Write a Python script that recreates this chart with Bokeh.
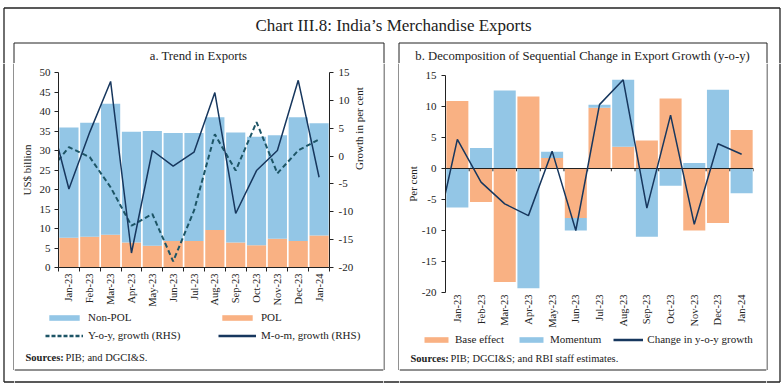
import math
from bokeh.plotting import figure
from bokeh.layouts import column, row
from bokeh.models import (Range1d, LinearAxis, FixedTicker, Label, Legend,
                          LegendItem, ColumnDataSource)
from bokeh.embed import file_html
from bokeh.resources import INLINE

# ---------------- data ----------------
months = ["Jan-23", "Feb-23", "Mar-23", "Apr-23", "May-23", "Jun-23", "Jul-23",
          "Aug-23", "Sep-23", "Oct-23", "Nov-23", "Dec-23", "Jan-24"]
# panel a (US$ billion)
pol = [7.6, 7.9, 8.4, 6.4, 5.6, 6.8, 6.8, 9.6, 6.4, 5.7, 7.4, 6.8, 8.2]
non_pol = [28.3, 29.2, 33.6, 28.4, 29.4, 27.7, 27.7, 28.9, 28.2, 27.8, 26.5, 31.7, 28.8]
# growth, per cent (RHS); *_prev is the Dec-22 value (line enters from the left edge)
yoy_prev = -3.0
yoy = [1.6, -0.2, -5.6, -12.5, -10.4, -18.9, -9.8, 3.9, -2.6, 6.1, -3.1, 1.0, 3.0]
mom_prev = 8.5
mom = [-5.9, 4.3, 13.4, -17.4, 1.0, -1.8, 0.7, 11.4, -10.3, -2.6, 1.0, 13.6, -3.8]
# panel b (per cent)
base_effect = [10.9, -5.4, -18.3, 11.6, 1.7, -8.0, 9.8, 3.5, 4.5, 11.3, -10.0, -8.8, 6.2]
momentum = [-6.3, 3.3, 12.6, -19.3, 1.0, -2.0, 0.5, 10.8, -11.0, -2.8, 0.9, 12.7, -4.0]
change_prev = -12.5
change = [4.7, -2.2, -5.7, -7.6, 2.8, -10.0, 10.3, 14.3, -6.4, 8.6, -9.0, 4.0, 2.3]

left_ticks = list(range(0, 51, 5))
rhs_ticks = list(range(-20, 16, 5))
b_ticks = list(range(-20, 16, 5))

# ---------------- style ----------------
FONT = "Liberation Serif"
BLUE = "#93C6E6"
ORANGE = "#F9B183"
NAVY = "#17375E"
TEAL = "#1D5566"
INK = "#222222"

n = len(months)
idx = list(range(n))
bounds = [i - 0.5 for i in range(n + 1)]
line_x = [-1] + idx


def no_align(p):
    if "frame_align" in p.properties():
        p.frame_align = False
    return p


def pixel_fig(w, h):
    """A figure whose frame is its whole canvas, with data units = canvas pixels."""
    p = figure(width=w, height=h, x_range=Range1d(0, w), y_range=Range1d(h, 0),
               output_backend="svg", toolbar_location=None, min_border=0,
               x_axis_location=None, y_axis_location=None, outline_line_color=None,
               background_fill_color=None, border_fill_color=None)
    p.grid.visible = False
    return no_align(p)


def rules(p, segs, lw=1.0):
    x0, y0, x1, y1 = zip(*segs)
    p.segment(x0=list(x0), y0=list(y0), x1=list(x1), y1=list(y1),
              line_color=INK, line_width=lw)


def lab(p, x, y, text, size="11px", bold=False, align="left"):
    p.add_layout(Label(x=x, y=y, text=text, text_font=FONT, text_font_size=size,
                       text_font_style="bold" if bold else "normal",
                       text_color=INK, text_align=align, text_baseline="middle"))


def style_axis(ax, tick_out=4, standoff=4, size="11px"):
    ax.axis_line_color = INK
    ax.axis_line_width = 1
    ax.major_tick_line_color = INK
    ax.major_tick_in = 0
    ax.major_tick_out = tick_out
    ax.minor_tick_line_color = None
    ax.major_label_standoff = standoff
    ax.major_label_text_font = FONT
    ax.major_label_text_font_size = size
    ax.major_label_text_color = INK
    ax.axis_label_text_font = FONT
    ax.axis_label_text_font_size = "11px"
    ax.axis_label_text_font_style = "normal"
    ax.axis_label_text_color = INK


def num_labels(ticks):
    return {t: str(t) for t in ticks}


def legend(items, loc, **kw):
    opts = dict(glyph_height=7, label_height=14, padding=0, margin=0,
                border_line_color=None, background_fill_alpha=0,
                label_text_font=FONT, label_text_font_size="11px",
                label_text_color=INK, orientation="horizontal")
    opts.update(kw)
    return Legend(items=[LegendItem(label=l, renderers=[r]) for l, r in items],
                  location=loc, **opts)


# ---------------- page geometry ----------------
TOP_H = 63
BODY_H = 387 - TOP_H          # 324
W0, WA, W2, WB, W4 = 14, 369, 16, 367, 17
CA_H, CB_H = 246, 267
BA_H, BB_H = BODY_H - CA_H, BODY_H - CB_H
OFF = -50  # off-canvas spot for legend-only swatch renderers

# ---------------- top strip: frames, main title, panel titles ----------------
tf = pixel_fig(783, TOP_H)
rules(tf, [(3.5, 7.5, 779.5, 7.5), (3.5, 7.5, 3.5, TOP_H), (779.5, 7.5, 779.5, TOP_H)], lw=1.3)
rules(tf, [(13.5, 42.5, 383.5, 42.5), (13.5, 42.5, 13.5, TOP_H), (383.5, 42.5, 383.5, TOP_H),
           (398.5, 42.5, 766.5, 42.5), (398.5, 42.5, 398.5, TOP_H), (766.5, 42.5, 766.5, TOP_H)])
lab(tf, 393, 25, "Chart III.8: India\u2019s Merchandise Exports", size="17px", align="center")
lab(tf, 198, 55, "a. Trend in Exports", size="12.7px", align="center")
lab(tf, 582, 55, "b. Decomposition of Sequential Change in Export Growth (y-o-y)",
    size="12.7px", align="center")

# side strips (frame lines only)
s0 = pixel_fig(W0, BODY_H)
rules(s0, [(3.5, 0, 3.5, 318.5), (3.5, 318.5, W0, 318.5)], lw=1.3)
rules(s0, [(13.5, 0, 13.5, 306.5), (13.5, 306.5, W0, 306.5)])
s2 = pixel_fig(W2, BODY_H)
rules(s2, [(0, 318.5, W2, 318.5)], lw=1.3)
rules(s2, [(0.5, 0, 0.5, 306.5), (15.5, 0, 15.5, 306.5), (0, 306.5, 0.5, 306.5),
           (15.5, 306.5, W2, 306.5)])
s4 = pixel_fig(W4, BODY_H)
rules(s4, [(13.5, 0, 13.5, 318.5), (0, 318.5, 13.5, 318.5)], lw=1.3)
rules(s4, [(0.5, 0, 0.5, 306.5), (0, 306.5, 0.5, 306.5)])

# ---------------- panel a chart ----------------
A_L, A_R, A_T, A_B = 44, 315, 9, 204
pa = figure(width=WA, height=CA_H, x_range=Range1d(-0.5, n - 0.5), y_range=Range1d(0, 50),
            output_backend="svg", toolbar_location=None,
            min_border_left=A_L, min_border_right=WA - A_R,
            min_border_top=A_T, min_border_bottom=CA_H - A_B,
            outline_line_color=None, border_fill_color=None)
no_align(pa)
pa.grid.visible = False
pa.extra_y_ranges = {"rhs": Range1d(-20, 15)}

src_a = ColumnDataSource(data=dict(x=idx, pol=pol, non_pol=non_pol))
pa.vbar_stack(["pol", "non_pol"], x="x", width=0.92, source=src_a,
              fill_color=[ORANGE, BLUE], line_color=None)
pa.line(line_x, [yoy_prev] + yoy, y_range_name="rhs", line_color=TEAL,
        line_width=2, line_dash="5 3")
pa.line(line_x, [mom_prev] + mom, y_range_name="rhs", line_color=NAVY, line_width=1.5)

xa = pa.xaxis[0]
style_axis(xa, tick_out=4, standoff=2, size="10.5px")
xa.ticker = FixedTicker(ticks=idx, minor_ticks=bounds)
xa.major_label_overrides = {i: m for i, m in enumerate(months)}
xa.major_label_orientation = math.pi / 2
xa.major_tick_line_color = None
xa.minor_tick_line_color = INK
xa.minor_tick_in = 0
xa.minor_tick_out = 4

ya = pa.yaxis[0]
style_axis(ya)
ya.ticker = FixedTicker(ticks=left_ticks)
ya.major_label_overrides = num_labels(left_ticks)
ya.axis_label = "US$ billion"
ya.axis_label_standoff = 4

ra = LinearAxis(y_range_name="rhs", ticker=FixedTicker(ticks=rhs_ticks))
style_axis(ra, standoff=5)
ra.major_label_overrides = num_labels(rhs_ticks)
ra.axis_label = "Growth in per cent"
ra.axis_label_standoff = 3
if "axis_label_orientation" in ra.properties():
    ra.axis_label_orientation = math.pi / 2
pa.add_layout(ra, "right")

# ---------------- panel a legend + sources ----------------
ba = pixel_fig(WA, BA_H)
rules(ba, [(0, 60.5, WA, 60.5)])
rules(ba, [(0, 72.5, WA, 72.5)], lw=1.3)
d_np = ba.vbar(x=[OFF], top=[OFF], width=1, fill_color=BLUE, line_color=None)
d_p = ba.vbar(x=[OFF], top=[OFF], width=1, fill_color=ORANGE, line_color=None)
d_y = ba.line(x=[OFF, OFF - 5], y=[OFF, OFF], line_color=TEAL, line_width=2.5, line_dash="4 2")
d_m = ba.line(x=[OFF, OFF - 5], y=[OFF, OFF], line_color=NAVY, line_width=2.5)
ba.add_layout(legend([("Non-POL", d_np), ("POL", d_p),
                      ("Y-o-y, growth (RHS)", d_y), ("M-o-m, growth (RHS)", d_m)],
                     (31, BA_H - 33), ncols=2, glyph_width=38, label_standoff=5,
                     label_width=126, spacing=4))
lab(ba, 11, 48, "Sources:", size="10.5px", bold=True)
lab(ba, 51, 48, "PIB; and DGCI&S.", size="10.5px")

# ---------------- panel b chart ----------------
B_L, B_R, B_T, B_B = 46, 354, 12, 229
pb = figure(width=WB, height=CB_H, x_range=Range1d(-0.5, n - 0.5), y_range=Range1d(-20, 15),
            output_backend="svg", toolbar_location=None,
            min_border_left=B_L, min_border_right=WB - B_R,
            min_border_top=B_T, min_border_bottom=CB_H - B_B,
            outline_line_color=None, border_fill_color=None)
no_align(pb)
pb.grid.visible = False

mom_bottom = [b if b * m > 0 else 0.0 for b, m in zip(base_effect, momentum)]
mom_top = [mb + m for mb, m in zip(mom_bottom, momentum)]
pb.vbar(x=idx, width=0.93, bottom=0, top=base_effect, fill_color=ORANGE, line_color=None)
pb.vbar(x=idx, width=0.93, bottom=mom_bottom, top=mom_top, fill_color=BLUE, line_color=None)
pb.segment(x0=[bounds[0]], x1=[bounds[-1]], y0=[0], y1=[0], line_color=INK, line_width=1)
pb.segment(x0=bounds, x1=bounds, y0=[0] * len(bounds), y1=[-0.45] * len(bounds),
           line_color=INK, line_width=1)
pb.line(line_x, [change_prev] + change, line_color=NAVY, line_width=1.5)

xb = pb.xaxis[0]
style_axis(xb, tick_out=0, standoff=2, size="10.5px")
xb.ticker = FixedTicker(ticks=idx)
xb.major_label_overrides = {i: m for i, m in enumerate(months)}
xb.major_label_orientation = math.pi / 2
xb.major_tick_line_color = None
xb.axis_line_color = None

yb = pb.yaxis[0]
style_axis(yb, standoff=5)
yb.ticker = FixedTicker(ticks=b_ticks)
yb.major_label_overrides = num_labels(b_ticks)
yb.axis_label = "Per cent"
yb.axis_label_standoff = 0

# ---------------- panel b legend + sources ----------------
bb = pixel_fig(WB, BB_H)
rules(bb, [(0, 39.5, WB, 39.5)])
rules(bb, [(0, 51.5, WB, 51.5)], lw=1.3)
e_b = bb.vbar(x=[OFF], top=[OFF], width=1, fill_color=ORANGE, line_color=None)
e_m = bb.vbar(x=[OFF], top=[OFF], width=1, fill_color=BLUE, line_color=None)
e_c = bb.line(x=[OFF, OFF - 5], y=[OFF, OFF], line_color=NAVY, line_width=2.5)
bb.add_layout(legend([("Base effect", e_b), ("Momentum", e_m),
                      ("Change in y-o-y growth", e_c)],
                     (22, BB_H - 16), glyph_width=30, label_standoff=4,
                     label_width=10, spacing=12))
lab(bb, 11, 28, "Sources:", size="10.5px", bold=True)
lab(bb, 51, 28, "PIB; DGCI&S; and RBI staff estimates.", size="10.5px")

layout = column(tf, row(s0, column(pa, ba), s2, column(pb, bb), s4))
open("out.html", "w").write(file_html(layout, INLINE))
